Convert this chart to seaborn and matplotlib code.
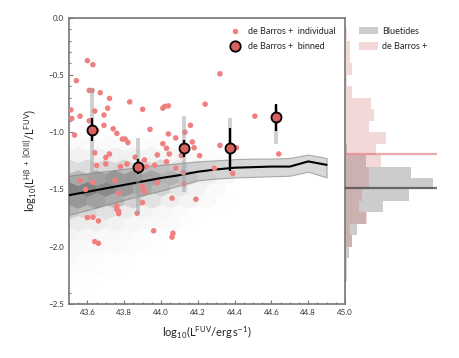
import numpy as np
import pandas as pd
import matplotlib
matplotlib.use("Agg")
import matplotlib.pyplot as plt
import seaborn as sns
from matplotlib.ticker import MultipleLocator
from matplotlib.patches import Patch
from matplotlib.lines import Line2D

# ---------------- data ----------------
# de Barros+ individual galaxies
indiv_x = [43.60, 43.63, 43.54, 43.61, 43.625, 43.67, 43.72, 43.51, 43.64, 43.71,
           43.69, 43.56, 43.515, 43.61, 43.69, 43.74, 43.76, 43.53, 43.65, 43.83,
           43.90, 43.79, 43.805, 43.82, 43.94, 44.01, 44.02, 44.04, 44.04, 44.08,
           44.01, 44.03, 44.16, 44.17, 44.13, 44.18, 44.21, 44.24, 44.32, 44.32,
           44.51, 44.41, 44.64, 44.29, 44.39, 43.64, 43.70, 43.72, 43.65, 43.70,
           43.78, 43.815, 43.86, 43.91, 43.92, 43.965, 43.98, 44.045, 44.03, 44.08,
           44.12, 44.125, 43.56, 43.63, 43.59, 43.75, 43.77, 43.90, 43.905, 43.91,
           43.90, 43.87, 43.98, 44.06, 44.19, 43.76, 43.76, 43.77, 43.77, 43.60,
           43.63, 43.66, 43.64, 43.66, 43.96, 44.06, 44.065, 44.11]
indiv_y = [-0.375, -0.41, -0.55, -0.635, -0.635, -0.655, -0.705, -0.805, -0.815, -0.79,
           -0.85, -0.86, -0.88, -0.90, -0.94, -0.97, -1.01, -1.025, -0.985, -0.735,
           -0.80, -1.06, -1.06, -1.09, -0.975, -0.79, -0.775, -0.77, -1.015, -1.05,
           -1.10, -1.14, -0.94, -1.085, -1.00, -1.135, -1.205, -0.755, -0.49, -1.115,
           -0.86, -1.135, -1.19, -1.315, -1.36, -1.18, -1.22, -1.19, -1.29, -1.277,
           -1.30, -1.277, -1.218, -1.242, -1.30, -1.288, -1.198, -1.19, -1.257, -1.314,
           -1.352, -1.452, -1.422, -1.437, -1.50, -1.422, -1.532, -1.475, -1.503, -1.518,
           -1.614, -1.707, -1.44, -1.576, -1.585, -1.645, -1.675, -1.69, -1.71, -1.745,
           -1.742, -1.774, -1.955, -1.97, -1.861, -1.916, -1.882, -1.204]

# de Barros+ binned
bin_x = [43.627, 43.877, 44.125, 44.375, 44.625]
bin_y = [-0.98, -1.30, -1.14, -1.135, -0.87]
bin_err_lo = [0.10, 0.065, 0.08, 0.20, 0.12]
bin_err_hi = [0.10, 0.065, 0.07, 0.175, 0.115]
bin_spread_lo = [-1.38, -1.71, -1.52, -1.30, -1.10]
bin_spread_hi = [-0.615, -1.053, -0.858, -0.878, -0.76]

# Bluetides median and 16-84 percentile band
bt_x = [43.5, 43.6, 43.7, 43.8, 43.9, 44.0, 44.1, 44.2, 44.3, 44.4, 44.5, 44.6, 44.7, 44.8, 44.9]
bt_median = [-1.55, -1.52, -1.49, -1.46, -1.43, -1.40, -1.375, -1.345, -1.325, -1.31,
             -1.305, -1.30, -1.30, -1.255, -1.285]
bt_p84 = [-1.38, -1.36, -1.34, -1.32, -1.30, -1.285, -1.27, -1.255, -1.245, -1.235,
          -1.23, -1.23, -1.225, -1.195, -1.225]
bt_p16 = [-1.72, -1.68, -1.635, -1.59, -1.55, -1.51, -1.465, -1.42, -1.405, -1.395,
          -1.39, -1.385, -1.38, -1.345, -1.395]

# Bluetides hexbin density (grey level), rows alternate between the two hex lattices
bt_hex_y = [-1.1, -1.2, -1.3, -1.4, -1.5, -1.6, -1.7, -1.8, -1.9, -2.0, -2.1, -2.2, -2.3]
bt_hex_x_a = [43.5, 43.6, 43.7, 43.8, 43.9, 44.0, 44.1, 44.2, 44.3]
bt_hex_x_b = [43.55, 43.65, 43.75, 43.85, 43.95, 44.05, 44.15, 44.25, 44.35]
bt_hex_density = [
    [0.04, 0.04, 0.04, 0.04, 0.03, 0.03, 0.02, 0.02, 0.00],
    [0.11, 0.11, 0.12, 0.12, 0.10, 0.08, 0.06, 0.03, 0.02],
    [0.22, 0.24, 0.25, 0.26, 0.26, 0.23, 0.17, 0.10, 0.05],
    [0.38, 0.42, 0.46, 0.46, 0.40, 0.32, 0.22, 0.13, 0.05],
    [0.56, 0.56, 0.52, 0.45, 0.38, 0.28, 0.18, 0.10, 0.04],
    [0.46, 0.42, 0.36, 0.28, 0.20, 0.14, 0.09, 0.05, 0.02],
    [0.30, 0.26, 0.21, 0.15, 0.10, 0.07, 0.04, 0.02, 0.00],
    [0.15, 0.14, 0.11, 0.08, 0.06, 0.04, 0.02, 0.00, 0.00],
    [0.09, 0.08, 0.06, 0.05, 0.03, 0.02, 0.00, 0.00, 0.00],
    [0.06, 0.05, 0.04, 0.03, 0.02, 0.00, 0.00, 0.00, 0.00],
    [0.04, 0.03, 0.02, 0.01, 0.00, 0.00, 0.00, 0.00, 0.00],
    [0.02, 0.02, 0.01, 0.00, 0.00, 0.00, 0.00, 0.00, 0.00],
    [0.01, 0.01, 0.00, 0.00, 0.00, 0.00, 0.00, 0.00, 0.00],
]

# marginal histograms (bins from -2.5 to 0.0)
hist_edges = [-2.5, -2.4, -2.3, -2.2, -2.1, -2.0, -1.9, -1.8, -1.7, -1.6, -1.5, -1.4, -1.3,
              -1.2, -1.1, -1.0, -0.9, -0.8, -0.7, -0.6, -0.5, -0.4, -0.3, -0.2, -0.1, 0.0]
hist_debarros = [0, 0, 0, 0, 0, 3, 2, 9, 6, 7, 10, 10, 15, 13, 17, 10, 12, 11, 3, 1, 3, 2, 2, 1, 0]
hist_bluetides = [0.2, 0.3, 0.5, 0.7, 1.3, 2.1, 3.6, 6.4, 11.6, 19.5, 26.7, 20.0, 6.3, 0.7,
                  0, 0, 0, 0, 0, 0, 0, 0, 0, 0, 0]
debarros_median = -1.19
bluetides_median = -1.49

# ---------------- style ----------------
sns.set_theme(style="white")
plt.rcParams['font.family'] = ['Lato', 'DejaVu Sans']
plt.rcParams['mathtext.fontset'] = 'custom'
plt.rcParams['mathtext.rm'] = 'Lato'
plt.rcParams['mathtext.it'] = 'Lato:italic'
plt.rcParams['mathtext.bf'] = 'Lato:bold'

RED_LIGHT = '#f08080'
RED_BIN = '#d9605e'
RED_HIST = '#cd5c5c'
SPINE = '#777777'

fig = plt.figure(figsize=(4.6, 3.58), dpi=100)
ax = fig.add_axes([0.15, 0.1508, 0.60, 0.7998])
axh = fig.add_axes([0.75, 0.1508, 0.20, 0.7998], sharey=ax)

# hexbin background
hx, hy, hc = [], [], []
for k, (yv, vals) in enumerate(zip(bt_hex_y, bt_hex_density)):
    cols = bt_hex_x_a if k % 2 == 0 else bt_hex_x_b
    for xv, cv in zip(cols, vals):
        hx.append(xv); hy.append(yv); hc.append(cv)
hexdf = pd.DataFrame({'x': hx, 'y': hy, 'c': hc})
ax.hexbin(hexdf['x'], hexdf['y'], C=hexdf['c'], gridsize=(15, 13),
          extent=(43.5, 45.0, -2.5, 0.1), reduce_C_function=np.mean,
          cmap='Greys', vmin=0, vmax=1, linewidths=0.3, edgecolors='face', zorder=1)

# percentile band and median
ax.fill_between(bt_x, bt_p16, bt_p84, facecolor=(0.5, 0.5, 0.5, 0.3),
                edgecolor=(0.45, 0.45, 0.45, 0.55), linewidth=0.8, zorder=2)
sns.lineplot(x=bt_x, y=bt_median, color='black', linewidth=1.5, ax=ax, zorder=3)

# individual points
sns.scatterplot(x=indiv_x, y=indiv_y, color=RED_LIGHT, s=16, edgecolor='none',
                ax=ax, zorder=4, legend=False)

# binned points with spreads and errors
ax.vlines(bin_x, bin_spread_lo, bin_spread_hi, color='#a0a0a0', alpha=0.5, linewidth=2.8, zorder=5)
ax.errorbar(bin_x, bin_y, yerr=[bin_err_lo, bin_err_hi], fmt='none', ecolor='black',
            elinewidth=1.6, capsize=0, zorder=6)
sns.scatterplot(x=bin_x, y=bin_y, color=RED_BIN, s=52, edgecolor='black', linewidth=1.3,
                ax=ax, zorder=7, legend=False)

ax.set_xlim(43.5, 45.0)
ax.set_ylim(-2.5, 0.0)
ax.xaxis.set_major_locator(MultipleLocator(0.2))
ax.xaxis.set_minor_locator(MultipleLocator(0.05))
ax.yaxis.set_major_locator(MultipleLocator(0.5))
ax.yaxis.set_minor_locator(MultipleLocator(0.1))
ax.tick_params(which='both', direction='in', colors=SPINE, labelcolor='#333333',
               labelsize=5.8, width=0.8, left=True, bottom=True)
ax.tick_params(which='major', length=3)
ax.tick_params(which='minor', length=1.6)
for s in ax.spines.values():
    s.set_color(SPINE)
    s.set_linewidth(1.2)
ax.set_xlabel(r'log$_{10}$(L$^{\mathrm{FUV}}$/erg$\,$s$^{-1}$)', fontsize=8, labelpad=6, color='#222222')
ax.set_ylabel(r'log$_{10}$(L$^{\mathrm{H\beta\ +\ [OIII]}}$/L$^{\mathrm{FUV}}$)', fontsize=8,
              labelpad=6, color='#222222')

handles = [Line2D([], [], marker='o', linestyle='none', markersize=4, color=RED_LIGHT,
                  markeredgecolor='none'),
           Line2D([], [], marker='o', linestyle='none', markersize=7.5, markerfacecolor=RED_BIN,
                  markeredgecolor='black', markeredgewidth=1.3)]
ax.legend(handles, ['de Barros +  individual', 'de Barros +  binned'], loc='upper right',
          frameon=False, fontsize=6.5, handletextpad=0.5, borderaxespad=0.6, labelspacing=0.7)

# marginal histograms
centers = [(a + b) / 2 for a, b in zip(hist_edges[:-1], hist_edges[1:])]
sns.histplot(y=centers, weights=hist_bluetides, bins=hist_edges, stat='density',
             color='grey', alpha=0.4, edgecolor='none', linewidth=0, ax=axh)
sns.histplot(y=centers, weights=hist_debarros, bins=hist_edges, stat='density',
             color=RED_HIST, alpha=0.24, edgecolor='none', linewidth=0, ax=axh)
axh.axhline(debarros_median, color='#e07070', alpha=0.6, linewidth=1.6)
axh.axhline(bluetides_median, color='#444444', alpha=0.75, linewidth=1.6)
axh.set_xlim(0, 2.8)
axh.set_ylim(-2.5, 0.0)
axh.set_axis_off()
hh = [Patch(facecolor='grey', alpha=0.4, edgecolor='none'),
      Patch(facecolor=RED_HIST, alpha=0.24, edgecolor='none')]
axh.legend(hh, ['Bluetides', 'de Barros +'], loc='upper left', frameon=False, fontsize=6.5,
           handlelength=2.1, handleheight=0.9, handletextpad=0.5, borderaxespad=0.6,
           labelspacing=0.7, bbox_to_anchor=(0.05, 1.0))

fig.savefig('out.png', dpi=100)
